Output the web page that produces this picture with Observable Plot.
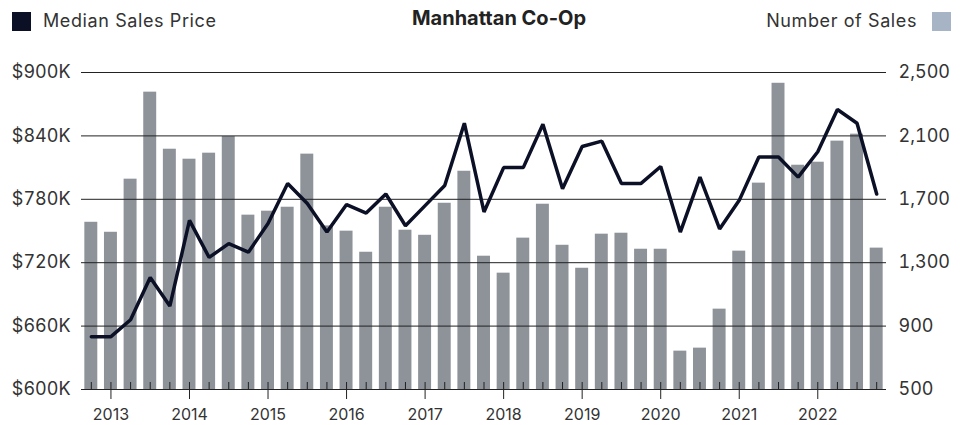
<!DOCTYPE html>
<html>
<head>
<meta charset="utf-8">
<script src="https://cdn.jsdelivr.net/npm/d3@7"></script>
<script src="https://cdn.jsdelivr.net/npm/@observablehq/plot@0.6"></script>
<style>
  html, body { margin: 0; padding: 0; background: #fff; }
  body { width: 964px; height: 425px; overflow: hidden; font-family: Inter, "Open Sans", sans-serif; }
  #header { position: relative; height: 40px; color: #333; }
  .leg { position: absolute; top: 7px; font-size: 18px; letter-spacing: 0.6px; line-height: 28px; display: flex; align-items: center; }
  .sw { width: 19px; height: 19px; display: inline-block; }
  #title { position: absolute; top: 5px; left: 0; width: 100%; text-align: center; font-size: 20px; font-weight: 700; line-height: 26px; color: #222; padding-left: 34px; box-sizing: border-box; }
</style>
</head>
<body>
<div id="header">
  <div class="leg" style="left:12px;"><span class="sw" style="background:#0b1026;margin-right:12px;"></span>Median Sales Price</div>
  <div id="title">Manhattan Co-Op</div>
  <div class="leg" style="right:13px;">Number of Sales<span class="sw" style="background:#a7b4c6;margin-left:15px;"></span></div>
</div>
<div id="chart"></div>
<script>
// Quarters from 2012 Q4 to 2022 Q4
const quarters = [
  "2012Q4",
  "2013Q1","2013Q2","2013Q3","2013Q4",
  "2014Q1","2014Q2","2014Q3","2014Q4",
  "2015Q1","2015Q2","2015Q3","2015Q4",
  "2016Q1","2016Q2","2016Q3","2016Q4",
  "2017Q1","2017Q2","2017Q3","2017Q4",
  "2018Q1","2018Q2","2018Q3","2018Q4",
  "2019Q1","2019Q2","2019Q3","2019Q4",
  "2020Q1","2020Q2","2020Q3","2020Q4",
  "2021Q1","2021Q2","2021Q3","2021Q4",
  "2022Q1","2022Q2","2022Q3","2022Q4"
];
// Number of Sales (right axis)
const salesCount = [
  1555,
  1492,1827,2376,2016,
  1953,1991,2096,1600,
  1625,1650,1985,1532,
  1499,1366,1650,1505,
  1473,1675,1877,1341,
  1234,1455,1669,1410,
  1265,1480,1486,1385,
  1385,742,761,1007,
  1373,1802,2432,1915,
  1934,2067,2111,1392
];
// Median Sales Price in $K (left axis)
const medianPrice = [
  650,
  650,666,706,679,
  760,725,738,730,
  757,795,776,749,
  775,767,785,755,
  774,793,852,768,
  810,810,851,790,
  830,835,795,795,
  811,749,801,752,
  779,820,820,801,
  825,865,852,785
];
const priceTicks = [600, 660, 720, 780, 840, 900];
const countTicks = [500, 900, 1300, 1700, 2100, 2500];
const yearTicks = ["2013Q1","2014Q1","2015Q1","2016Q1","2017Q1","2018Q1","2019Q1","2020Q1","2021Q1","2022Q1"];

// map count axis [500,2500] onto price axis [600,900]
const toPrice = c => 600 + (c - 500) * 300 / 2000;
const toCount = p => Math.round(500 + (p - 600) * 2000 / 300);

const data = quarters.map((q, i) => ({q, count: salesCount[i], price: medianPrice[i]}));

const chart = Plot.plot({
  width: 964,
  height: 385,
  marginTop: 32,
  marginBottom: 36,
  marginLeft: 81,
  marginRight: 78,
  style: {fontFamily: "Inter, 'Open Sans', sans-serif", color: "#333", background: "#fff"},
  x: {type: "band", domain: quarters, paddingInner: 0.34, paddingOuter: 0.17, round: false, label: null},
  y: {domain: [600, 900], label: null},
  marks: [
    Plot.barY(data, {x: "q", y1: 600, y2: d => toPrice(d.count), fill: "#8e939a"}),
    Plot.gridY(priceTicks, {stroke: "#222", strokeOpacity: 1, strokeWidth: 1}),
    Plot.ruleY([600], {stroke: "#222", strokeWidth: 1.2}),
    Plot.axisY(priceTicks, {anchor: "left", tickSize: 0, tickPadding: 11, fontSize: 18,
      tickFormat: d => `$${d}K`, label: null}),
    Plot.axisY(countTicks.map(toPrice), {anchor: "right", tickSize: 0, tickPadding: 12, fontSize: 18,
      tickFormat: p => d3.format(",")(toCount(p)), label: null}),
    Plot.axisX(quarters, {anchor: "bottom", tickSize: -7, tickFormat: () => "", label: null, stroke: "#222"}),
    Plot.axisX(yearTicks, {anchor: "bottom", tickSize: 10, tickPadding: 9, fontSize: 16,
      tickFormat: q => q.slice(0, 4), label: null, stroke: "#222"}),
    Plot.line(data, {x: "q", y: "price", stroke: "#0b1026", strokeWidth: 3.5, strokeLinejoin: "miter"})
  ]
});
document.getElementById("chart").appendChild(chart);
</script>
</body>
</html>
